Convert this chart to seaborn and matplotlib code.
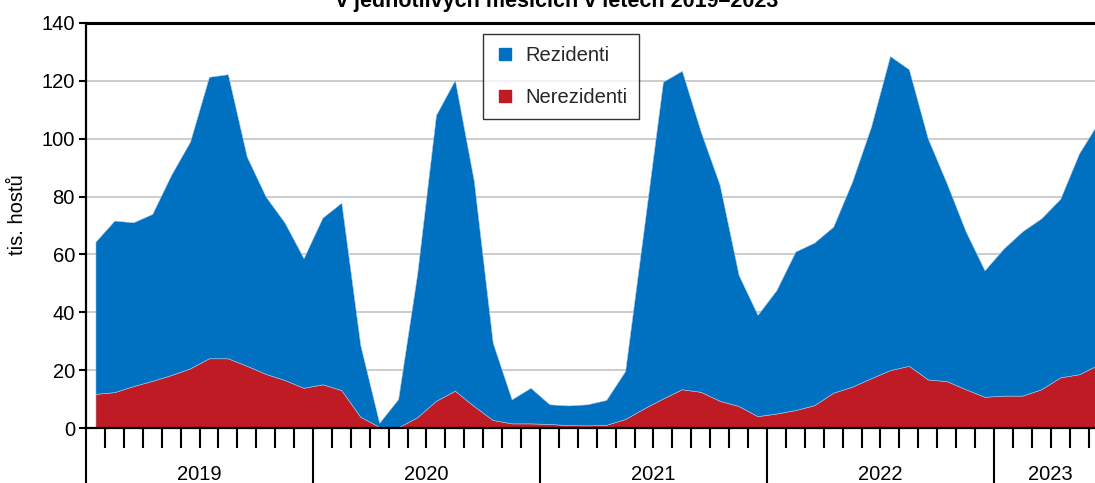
import matplotlib
matplotlib.use('Agg')
import matplotlib.pyplot as plt
import matplotlib.transforms as mtransforms
from matplotlib.lines import Line2D
import numpy as np
import seaborn as sns

# Hosté (tis.) po měsících, leden 2019 - červen 2023
years = ['2019', '2020', '2021', '2022', '2023']
months_in_year = [12, 12, 12, 12, 6]

celkem = [
    64.4, 71.7, 71.1, 74.0, 87.5, 99.0, 121.4, 122.3, 93.8, 80.0, 71.0, 58.7,
    72.7, 77.9, 28.7, 1.8, 10.0, 53.0, 108.2, 120.3, 85.5, 29.5, 9.9, 13.9,
    8.2, 7.8, 8.2, 9.7, 19.7, 69.5, 119.7, 123.5, 102.4, 84.0, 52.9, 39.1,
    47.7, 61.0, 64.1, 69.6, 85.2, 104.2, 128.6, 124.0, 100.1, 84.6, 68.0, 54.5,
    62.0, 68.0, 72.5, 79.2, 95.0, 105.5,
]
nerezidenti = [
    11.8, 12.4, 14.5, 16.3, 18.3, 20.6, 24.1, 24.1, 21.5, 18.7, 16.6, 13.9,
    15.1, 13.1, 3.9, 0.4, 0.2, 3.7, 9.4, 12.9, 7.6, 2.8, 1.6, 1.6,
    1.4, 1.0, 0.9, 1.1, 3.1, 6.8, 10.2, 13.4, 12.5, 9.4, 7.6, 4.1,
    5.0, 6.2, 7.9, 12.2, 14.3, 17.2, 20.0, 21.5, 16.8, 16.2, 13.4, 10.8,
    11.2, 11.2, 13.4, 17.5, 18.6, 21.8,
]
rezidenti = list(np.array(celkem) - np.array(nerezidenti))

BLUE = '#0070c0'
RED = '#be1b24'

sns.set_theme(style='white')
plt.rcParams['font.family'] = ['Liberation Sans', 'DejaVu Sans']

fig = plt.figure(figsize=(10.95, 4.83), dpi=100)
ax = fig.add_axes([86 / 1095, 55 / 483, 1021.5 / 1095, 405 / 483])

n = len(celkem)
x = np.arange(n) + 0.5
ax.stackplot(x, nerezidenti, rezidenti, colors=[RED, BLUE],
             edgecolor='#a9c9e8', linewidth=0.4, zorder=2)

ax.set_xlim(0, sum(months_in_year))
ax.set_ylim(0, 140)
ax.set_yticks(range(0, 141, 20))
ax.yaxis.grid(True, color='#c8c8c8', linewidth=1.3, zorder=0)
ax.set_axisbelow(True)

# osa x: roky (dlouhé čárky) a měsíce (krátké čárky)
bounds = np.cumsum([0] + months_in_year)
ax.set_xticks(bounds[:-1])
ax.set_xticklabels([])
ax.set_xticks(np.arange(0, n + 1), minor=True)
ax.tick_params(axis='x', which='major', length=45, width=1.5, color='black',
               direction='out', bottom=True)
ax.tick_params(axis='x', which='minor', length=14.4, width=1.5, color='black',
               direction='out', bottom=True)
ax.tick_params(axis='y', length=5, width=1.5, color='black', direction='out',
               left=True, pad=3, labelsize=14.5, labelcolor='black')

trans = mtransforms.blended_transform_factory(ax.transData, ax.transAxes)
for yr, a, b in zip(years, bounds[:-1], bounds[1:]):
    ax.text((a + b) / 2, -0.116, yr, transform=trans, ha='center',
            va='center', fontsize=14.5, color='black')

for side in ['left', 'bottom', 'top']:
    ax.spines[side].set_visible(True)
    ax.spines[side].set_color('black')
    ax.spines[side].set_linewidth(1.6)
ax.spines['top'].set_linewidth(2.2)

ax.set_ylabel('tis. hostů', fontsize=14.5, color='black')
ax.yaxis.set_label_coords(-0.0575, 0.526)

handles = [
    Line2D([], [], marker='s', color='none', markerfacecolor=BLUE,
           markeredgecolor=BLUE, markersize=8, label='Rezidenti'),
    Line2D([], [], marker='s', color='none', markerfacecolor=RED,
           markeredgecolor=RED, markersize=8, label='Nerezidenti'),
]
leg = ax.legend(handles=handles, loc='upper left',
                bbox_to_anchor=(0.3886, 0.9728), borderaxespad=0,
                fontsize=14.5, frameon=True, fancybox=False,
                edgecolor='black', labelspacing=1.15, handlelength=1.0,
                handletextpad=0.5, borderpad=0.6)
leg.get_frame().set_linewidth(1.0)
leg.set_zorder(5)

fig.text(557 / 1095, 1 - 6.5 / 483,
         'v jednotlivých měsících v letech 2019–2023',
         ha='center', va='baseline', fontsize=15.5, fontweight='bold',
         color='black')

fig.savefig('out.png', dpi=100)
